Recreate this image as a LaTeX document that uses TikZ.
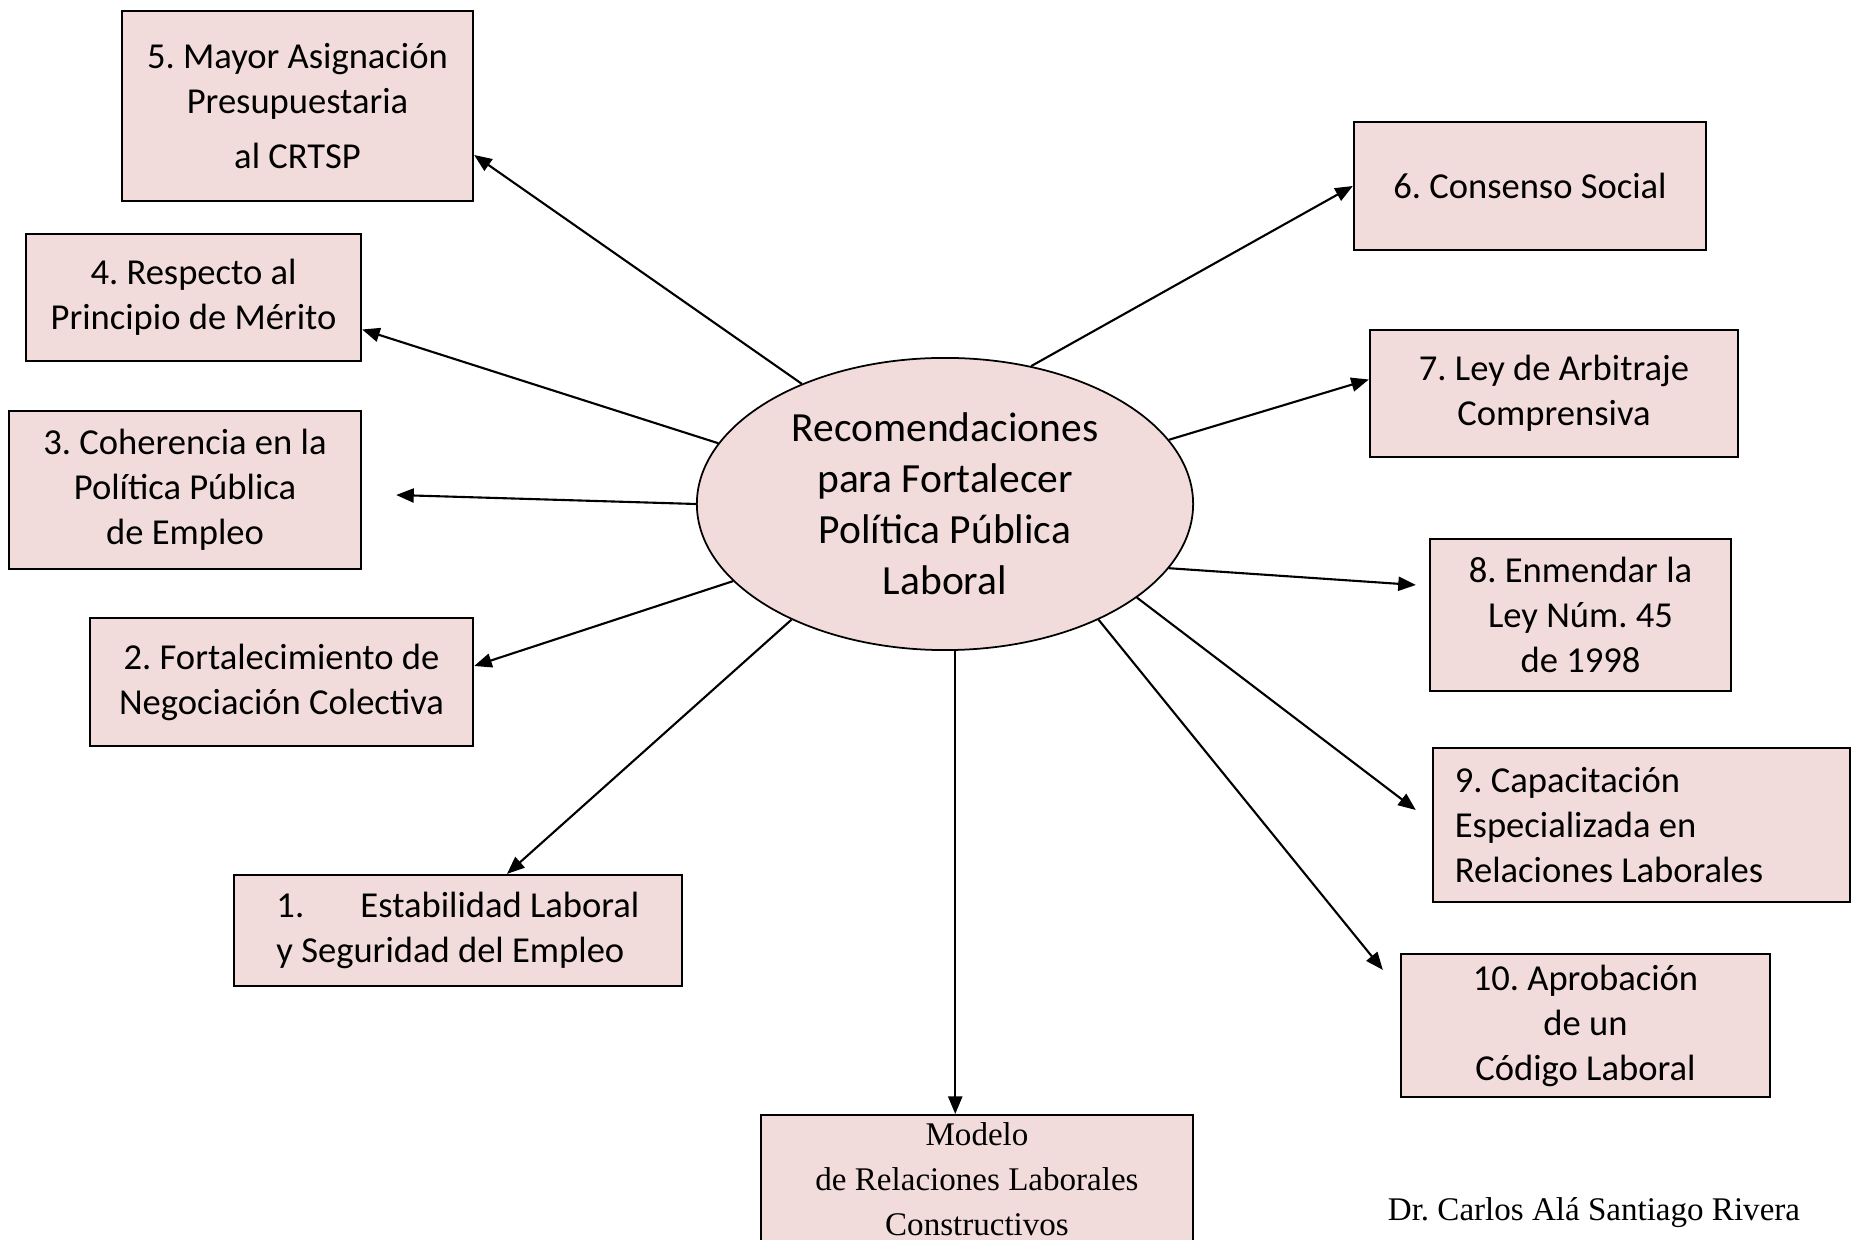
\documentclass[tikz,border=0pt]{standalone}
\usepackage{fontspec}
\setmainfont{Carlito}
\newfontfamily\sigfont{Liberation Serif}
\usetikzlibrary{arrows.meta,calc,shapes.geometric}
\definecolor{boxpink}{HTML}{F2DCDB}
\frenchspacing

\begin{document}
\begin{tikzpicture}[x=0.01cm,y=-0.01cm,
    rec/.style={draw,line width=0.6pt,fill=boxpink,align=center,inner sep=0pt,
        font=\fontsize{10.4}{12.8}\selectfont},
    arr/.style={line width=0.6pt,-{Triangle[length=5pt,width=4pt]}}]

% Page frame
\useasboundingbox (0,0) rectangle (1856,1240);

% Center ellipse
\node[ellipse,draw,line width=0.5pt,fill=boxpink,minimum width=4.96cm,minimum height=2.92cm,
    inner sep=0pt,align=center,font=\fontsize{11.8}{14.5}\selectfont] (ell) at (945,504)
    {Recomendaciones\\para Fortalecer\\Política Pública\\Laboral};

% Left boxes
\node[rec,minimum width=3.51cm,minimum height=1.90cm] (b5) at (297.5,106)
    {5. Mayor Asignación\\Presupuestaria\\[3pt]al CRTSP};
\node[rec,minimum width=3.35cm,minimum height=1.27cm] (b4) at (193.5,297.5)
    {4. Respecto al\\Principio de Mérito};
\node[rec,minimum width=3.52cm,minimum height=1.58cm] (b3) at (185,490)
    {3. Coherencia en la\\Política Pública\\de Empleo};
\node[rec,minimum width=3.83cm,minimum height=1.28cm] (b2) at (281.5,682)
    {2. Fortalecimiento de\\Negociación Colectiva};
\node[rec,align=flush left,minimum width=4.48cm,minimum height=1.11cm] (b1) at (458,930.5)
    {1.\hspace{16pt}Estabilidad Laboral\\y Seguridad del Empleo};

% Bottom box
\node[rec,minimum width=4.32cm,minimum height=1.28cm,anchor=north,
    font=\sigfont\fontsize{9.4}{12.8}\selectfont] (bm) at (977,1114)
    {Modelo\\de Relaciones Laborales\\Constructivos};

% Right boxes
\node[rec,minimum width=3.52cm,minimum height=1.28cm] (b6) at (1530,186)
    {6. Consenso Social};
\node[rec,minimum width=3.68cm,minimum height=1.27cm] (b7) at (1554,393.5)
    {7. Ley de Arbitraje\\Comprensiva};
\node[rec,minimum width=3.01cm,minimum height=1.52cm] (b8) at (1580.5,615)
    {8. Enmendar la\\Ley Núm. 45\\de 1998};
\node[rec,align=flush left,text width=3.73cm,inner xsep=0.22cm,minimum height=1.54cm] (b9) at (1641.5,825)
    {9. Capacitación\\Especializada en\\Relaciones Laborales};
\node[rec,minimum width=3.69cm,minimum height=1.43cm] (b10) at (1585.5,1025.5)
    {10. Aprobación\\de un\\Código Laboral};

% Author
\node[font=\sigfont\fontsize{9.4}{12}\selectfont] (sig) at (1594,1213)
    {Dr. Carlos Alá Santiago Rivera};

% Arrows
\draw[arr] (ell.140) -- ($(b5.east)+(0,49)$);
\draw[arr] (ell.165) -- ($(b4.east)+(0,32)$);
\draw[arr] (ell.west) -- ($(b3.east)+(34,5)$);
\draw[arr] (ell.200) -- ($(b2.east)+(0,-16)$);
\draw[arr] (ell.217) -- ($(b1.north)+(49,0)$);
\draw[arr] (ell.274) -- (ell.274 |- bm.north);
\draw[arr] (ell.58) -- (b6.west);
\draw[arr] (ell.16) -- ($(b7.west)+(0,-14)$);
\draw[arr] (ell.344) -- ($(b8.west)+(-13,-30)$);
\draw[arr] (ell.334) -- ($(b9.west)+(-16,-15)$);
\draw[arr] (ell.323) -- ($(b10.north west)+(-17,17)$);

\end{tikzpicture}
\end{document}
